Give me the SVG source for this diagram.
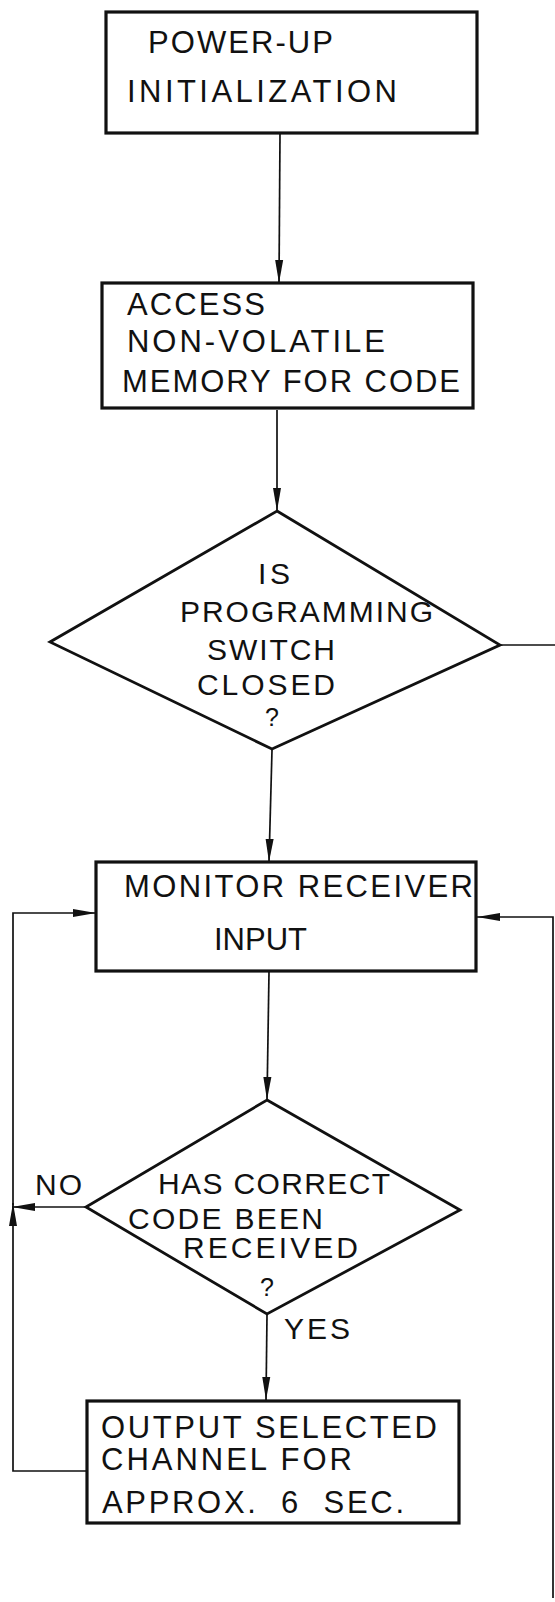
<svg xmlns="http://www.w3.org/2000/svg" width="555" height="1602" viewBox="0 0 555 1602">
<style>
.bg{fill:#ffffff}
.box{fill:none;stroke:#111;stroke-width:3.2}
.dia{fill:none;stroke:#111;stroke-width:2.8;stroke-linejoin:miter}
.con{fill:none;stroke:#111;stroke-width:1.7}
.t{font-family:"Liberation Sans",Arial,sans-serif;fill:#111;font-size:31px}
.td{font-family:"Liberation Sans",Arial,sans-serif;fill:#111;font-size:30px}
.q{font-family:"Liberation Sans",Arial,sans-serif;fill:#111;font-size:25px;text-anchor:middle}
</style>
<defs>
<marker id="ah" markerUnits="userSpaceOnUse" markerWidth="26" markerHeight="12" refX="23" refY="5" orient="auto">
<path d="M0,1 L23,5 L0,9 z" fill="#111"/>
</marker>
</defs>
<rect class="bg" x="0" y="0" width="555" height="1602"/>
<g id="connectors">
<path class="con" d="M280,134 L279,283" marker-end="url(#ah)"/>
<path class="con" d="M277,410 L277,511" marker-end="url(#ah)"/>
<path class="con" d="M500,645 L555,645"/>
<path class="con" d="M272,750 L269,862" marker-end="url(#ah)"/>
<path class="con" d="M269,972 L267,1100" marker-end="url(#ah)"/>
<path class="con" d="M86,1207 L12,1207" marker-end="url(#ah)"/>
<path class="con" d="M267,1315 L266,1400" marker-end="url(#ah)"/>
<path class="con" d="M87,1471 L13,1471 L13,1203" marker-end="url(#ah)"/>
<path class="con" d="M13,1205 L13,913 L96,913" marker-end="url(#ah)"/>
<path class="con" d="M553,1598 L553,917 L477,917" marker-end="url(#ah)"/>
</g>
<g id="power-up">
<rect class="box" x="106" y="12" width="371" height="121"/>
<text class="t" x="148" y="53" textLength="185" lengthAdjust="spacing">POWER-UP</text>
<text class="t" x="127" y="102" textLength="270" lengthAdjust="spacing">INITIALIZATION</text>
</g>
<g id="access-memory">
<rect class="box" x="102" y="283" width="371" height="125"/>
<text class="t" x="127" y="315" textLength="138" lengthAdjust="spacing">ACCESS</text>
<text class="t" x="127" y="352" textLength="258" lengthAdjust="spacing">NON-VOLATILE</text>
<text class="t" x="122" y="392" textLength="338" lengthAdjust="spacing">MEMORY FOR CODE</text>
</g>
<g id="programming-switch">
<polygon class="dia" points="277,511 500,645 272,749 50,642"/>
<text class="td" x="258" y="584" textLength="32" lengthAdjust="spacing">IS</text>
<text class="td" x="180" y="622" textLength="253" lengthAdjust="spacing">PROGRAMMING</text>
<text class="td" x="207" y="660" textLength="128" lengthAdjust="spacing">SWITCH</text>
<text class="td" x="197" y="695" textLength="138" lengthAdjust="spacing">CLOSED</text>
<text class="q" x="272" y="726">?</text>
</g>
<g id="monitor-receiver">
<rect class="box" x="96" y="862" width="380" height="109"/>
<text class="t" x="124" y="897" textLength="349" lengthAdjust="spacing">MONITOR RECEIVER</text>
<text class="t" x="214" y="950">INPUT</text>
</g>
<g id="correct-code">
<polygon class="dia" points="267,1100 460,1210 267,1314 86,1207"/>
<text class="td" x="158" y="1194" textLength="232" lengthAdjust="spacing">HAS CORRECT</text>
<text class="td" x="128" y="1229" textLength="195" lengthAdjust="spacing">CODE BEEN</text>
<text class="td" x="183" y="1258" textLength="175" lengthAdjust="spacing">RECEIVED</text>
<text class="q" x="267" y="1296">?</text>
</g>
<g id="labels">
<text class="td" x="35" y="1195" textLength="47" lengthAdjust="spacing">NO</text>
<text class="td" x="284" y="1339" textLength="66" lengthAdjust="spacing">YES</text>
</g>
<g id="output-channel">
<rect class="box" x="87" y="1401" width="372" height="122"/>
<text class="t" x="101" y="1438" textLength="336" lengthAdjust="spacing">OUTPUT SELECTED</text>
<text class="t" x="101" y="1470" textLength="251" lengthAdjust="spacing">CHANNEL FOR</text>
<text class="t" x="102" y="1513" textLength="302" lengthAdjust="spacing" xml:space="preserve">APPROX.  6  SEC.</text>
</g>
</svg>
